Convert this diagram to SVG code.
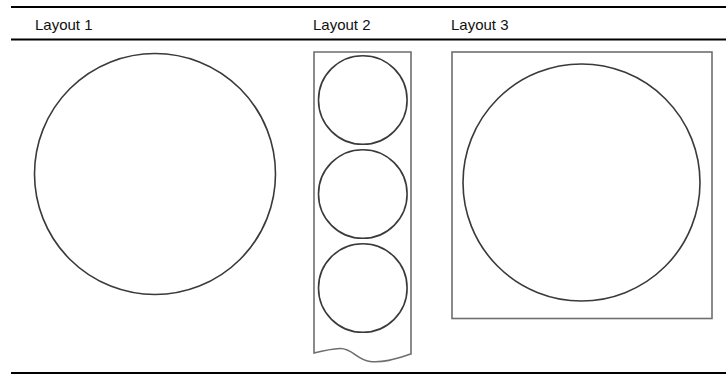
<svg xmlns="http://www.w3.org/2000/svg" width="726" height="374" viewBox="0 0 726 374">
<style>
.rule{stroke:#000;stroke-width:1.8;fill:none}
.hdr{font-family:"Liberation Sans","DejaVu Sans",sans-serif;font-size:15px;fill:#111}
.circ{fill:none;stroke:#3a3a3a;stroke-width:1.6}
.frame{fill:none;stroke:#6e6e6e;stroke-width:1.6}
</style>
<rect width="726" height="374" fill="#fff"/>
<g id="rules">
<line class="rule" x1="11" y1="7" x2="726" y2="7"/>
<line class="rule" x1="11" y1="39.5" x2="726" y2="39.5"/>
<line class="rule" x1="11" y1="373" x2="726" y2="373"/>
</g>
<g id="headers">
<text class="hdr" x="35" y="29.5">Layout 1</text>
<text class="hdr" x="313" y="29.5">Layout 2</text>
<text class="hdr" x="451" y="29.5">Layout 3</text>
</g>
<g id="layout1">
<circle class="circ" cx="155" cy="174" r="120.5"/>
</g>
<g id="layout2">
<path class="frame" d="M314,353 L314,52 L411,52 L411,354 C398,358 385,363 370,361.5 C357,360 352,348 340,348.5 C330,349 322,351 314,353 Z"/>
<circle class="circ" cx="362.8" cy="100" r="44.3"/>
<circle class="circ" cx="362.8" cy="194" r="44.3"/>
<circle class="circ" cx="362.8" cy="288" r="44.3"/>
</g>
<g id="layout3">
<rect class="frame" x="452" y="52" width="260" height="266.5"/>
<circle class="circ" cx="581.5" cy="182.5" r="118.5"/>
</g>
</svg>
